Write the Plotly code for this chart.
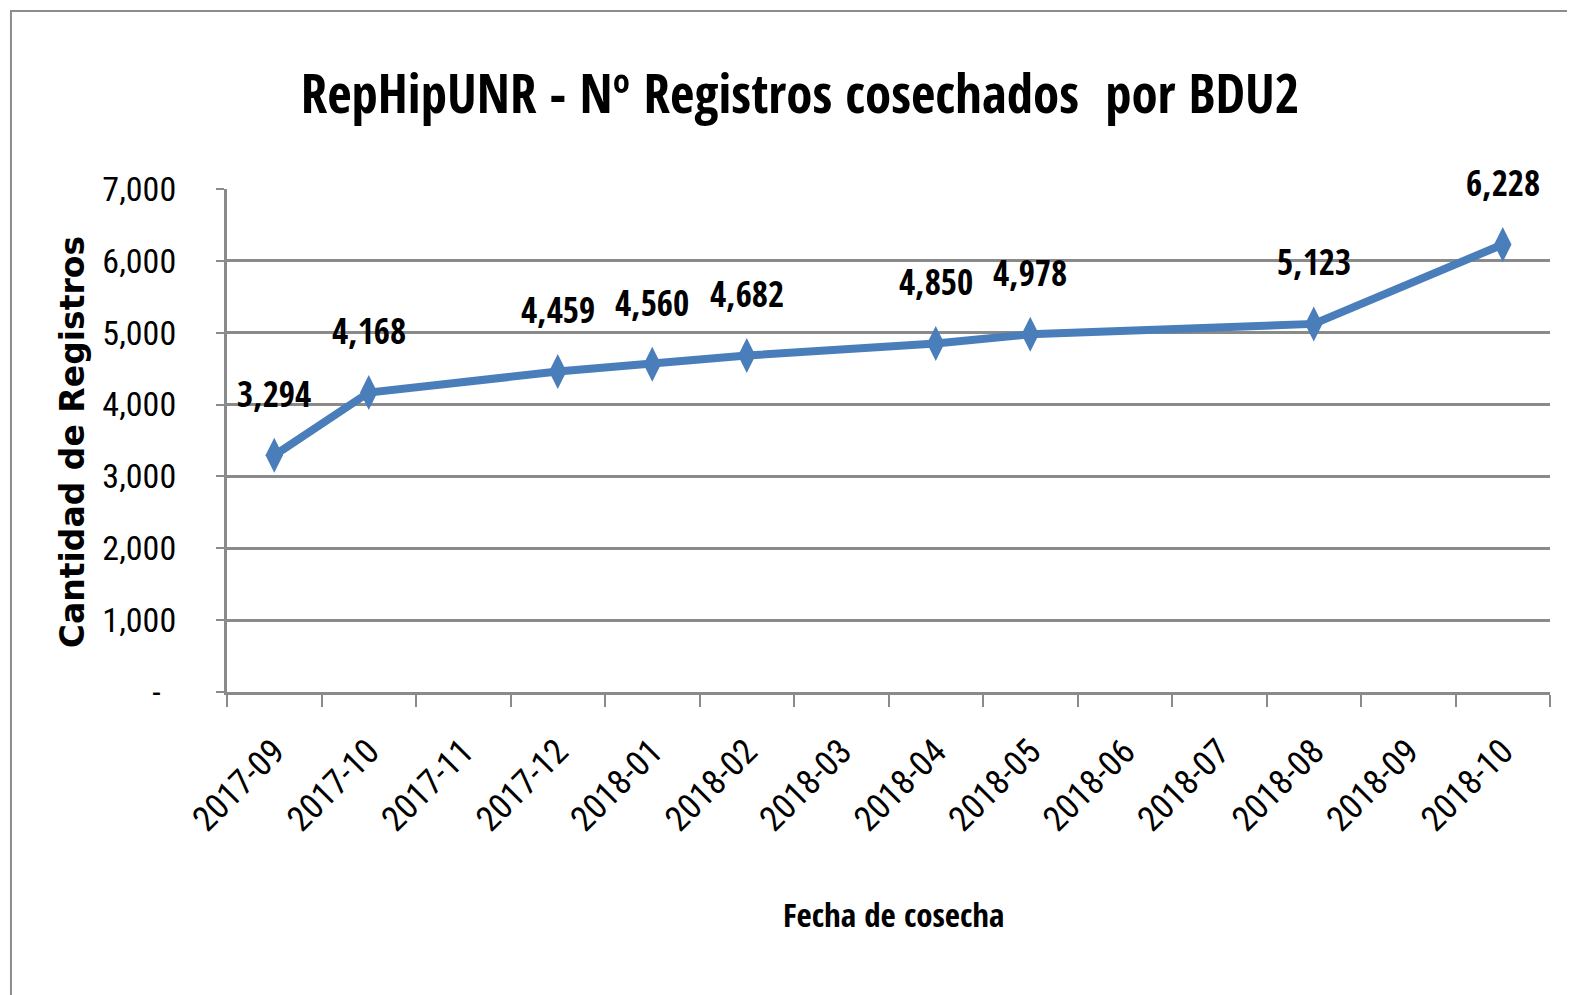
import plotly.graph_objects as go

categories = ["2017-09", "2017-10", "2017-11", "2017-12", "2018-01", "2018-02", "2018-03",
              "2018-04", "2018-05", "2018-06", "2018-07", "2018-08", "2018-09", "2018-10"]
point_dates = ["2017-09", "2017-10", "2017-12", "2018-01", "2018-02", "2018-04",
               "2018-05", "2018-08", "2018-10"]
registros = [3294, 4168, 4459, 4560, 4682, 4850, 4978, 5123, 6228]
y_ticks = [0, 1000, 2000, 3000, 4000, 5000, 6000, 7000]
y_ticktext = ["-\u00a0\u00a0", "1,000", "2,000", "3,000", "4,000", "5,000", "6,000", "7,000"]

BOLD = "'Open Sans Condensed', 'Roboto Condensed', Carlito, sans-serif"
REG = "'Roboto Condensed', Carlito, sans-serif"
LINE = "#4a7ebb"
GRID = "#8a8a8a"

# the page body adds an 8px margin, so the figure is 8px smaller and shifted
W, H = 1567, 987

fig = go.Figure()
fig.add_trace(go.Scatter(
    x=point_dates, y=registros, mode="lines+markers",
    line=dict(color=LINE, width=8),
    marker=dict(symbol="diamond-tall", size=25, color=LINE),
    hoverinfo="x+y", showlegend=False,
))

for d, v in zip(point_dates, registros):
    fig.add_annotation(x=d, y=v, text=f"<b>{v:,}</b>", showarrow=False,
                       xanchor="center", yanchor="middle",
                       yshift=62, font=dict(family=BOLD, size=35, color="black"))

# axis titles
fig.add_annotation(xref="paper", yref="paper", x=-0.117, y=0.497,
                   xanchor="center", yanchor="middle",
                   text="<b>Cantidad de Registros</b>", textangle=-90, showarrow=False,
                   font=dict(family="DejaVu Sans, sans-serif", size=33, color="black"))
fig.add_annotation(xref="paper", yref="paper", x=0.5035, y=-0.443,
                   xanchor="center", yanchor="middle",
                   text="<b>Fecha de cosecha</b>", showarrow=False,
                   font=dict(family=BOLD, size=33, color="black"))

# chart border
fig.add_shape(type="rect", xref="paper", yref="paper",
              x0=-0.1633, x1=1.04, y0=-0.65, y1=1.3539,
              line=dict(color="#8c8c8c", width=2), fillcolor="rgba(0,0,0,0)", layer="below")

fig.update_layout(
    width=W, height=H,
    margin=dict(l=219, r=25, t=181, b=303, autoexpand=False),
    paper_bgcolor="white", plot_bgcolor="white",
    title=dict(text="<b>RepHipUNR - Nº Registros cosechados  por BDU2</b>",
               xref="container", yref="container", x=792 / W, y=1 - 86 / H,
               xanchor="center", yanchor="middle",
               font=dict(family=BOLD, size=53, color="black")),
    font=dict(family=REG, color="black"),
)

fig.update_xaxes(
    type="category", categoryorder="array", categoryarray=categories,
    range=[-0.5, len(categories) - 0.5], automargin=False,
    tickson="boundaries", ticks="outside", ticklen=12, tickwidth=2, tickcolor=GRID,
    showline=True, linecolor=GRID, linewidth=3,
    showgrid=False, tickangle=-45, tickfont=dict(family=REG, size=35, color="black"),
    ticklabelstandoff=22,
)
fig.update_yaxes(
    range=[0, 7000], tickvals=y_ticks, ticktext=y_ticktext, automargin=False,
    ticks="outside", ticklen=8, tickwidth=2, tickcolor=GRID,
    showline=True, linecolor=GRID, linewidth=3,
    showgrid=True, gridcolor=GRID, gridwidth=2.5, zeroline=False,
    tickfont=dict(family=REG, size=34, color="black"),
    ticklabelstandoff=33,
)

fig.write_html("out.html")
